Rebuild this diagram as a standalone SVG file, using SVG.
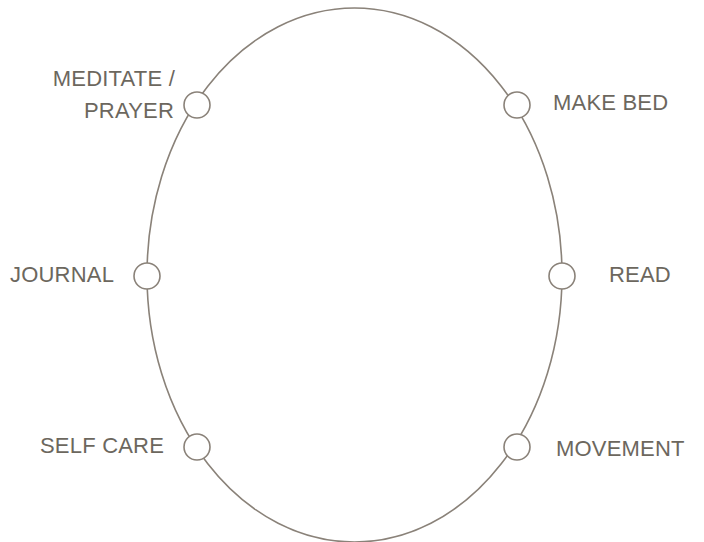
<svg xmlns="http://www.w3.org/2000/svg" width="704" height="542" viewBox="0 0 704 542">
<style>
.ring{fill:none;stroke:#8a8279;stroke-width:1.6}
.dot{fill:#fff;stroke:#8a8279;stroke-width:1.6}
.lbl{font-family:"Liberation Sans",Arial,sans-serif;font-size:22px;fill:#6c675e;letter-spacing:0.2px}
</style>
<rect width="704" height="542" fill="#fff"/>
<g id="connectors">
<ellipse class="ring" cx="354.5" cy="275" rx="207.5" ry="267"/>
</g>
<g id="meditate"><circle class="dot" cx="197" cy="105" r="13"/><text class="lbl" x="175" y="86" text-anchor="end">MEDITATE /</text><text class="lbl" x="174" y="118" text-anchor="end">PRAYER</text></g>
<g id="makebed"><circle class="dot" cx="517" cy="105" r="13"/><text class="lbl" x="553" y="110">MAKE BED</text></g>
<g id="journal"><circle class="dot" cx="147" cy="276" r="13"/><text class="lbl" x="10" y="282">JOURNAL</text></g>
<g id="read"><circle class="dot" cx="562" cy="276" r="13"/><text class="lbl" x="609" y="282">READ</text></g>
<g id="selfcare"><circle class="dot" cx="197" cy="447" r="13"/><text class="lbl" x="40" y="453">SELF CARE</text></g>
<g id="movement"><circle class="dot" cx="517" cy="447" r="13"/><text class="lbl" x="556" y="456">MOVEMENT</text></g>
</svg>
